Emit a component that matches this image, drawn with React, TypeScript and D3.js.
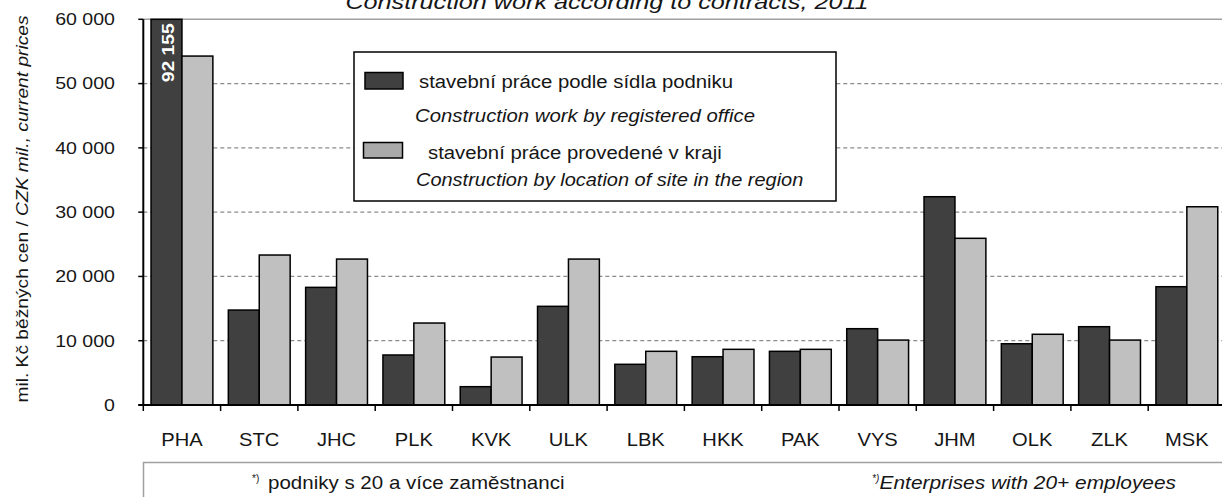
import { useEffect, useRef } from 'react';
import * as d3 from 'd3';

// regions (kraje)
const regions = ['PHA', 'STC', 'JHC', 'PLK', 'KVK', 'ULK', 'LBK', 'HKK', 'PAK', 'VYS', 'JHM', 'OLK', 'ZLK', 'MSK'];
// stavební práce podle sídla podniku
const byOffice = [92155, 14770, 18300, 7780, 2850, 15350, 6330, 7510, 8350, 11870, 32400, 9530, 12180, 18400];
// stavební práce provedené v kraji
const bySite = [54280, 23330, 22700, 12750, 7460, 22700, 8350, 8660, 8660, 10100, 25930, 11000, 10100, 30840];
const yTicks = [0, 10000, 20000, 30000, 40000, 50000, 60000];

const FONT = "'Liberation Sans', Arial, sans-serif";
const DARK = '#404040', LIGHT = '#c0c0c0';

type TOpt = { size: number; sx?: number; anchor?: string; italic?: boolean; bold?: boolean; rot?: number; fill?: string };

export default function App() {
  const svgRef = useRef<SVGSVGElement>(null);

  useEffect(() => {
    if (!svgRef.current) return;
    const svg = d3.select(svgRef.current);
    svg.selectAll('*').remove();

    const W = 1222, H = 497;
    const left = 143.3, bottom = 405, top = 19.3;
    const band = 77.3;

    const x = d3.scaleBand<string>().domain(regions).range([left, left + band * regions.length]);
    const y = d3.scaleLinear().domain([0, 60000]).range([bottom, top]);
    const fmt = (v: number) => d3.format(',')(v).replace(/,/g, ' ');

    // text helper: the source font runs a bit wider than Liberation Sans, so stretch along the baseline
    const txt = (px: number, py: number, s: string, o: TOpt) =>
      svg.append('text')
        .attr('transform', `translate(${px},${py}) rotate(${o.rot ?? 0}) scale(${o.sx ?? 1.13},1)`)
        .attr('text-anchor', o.anchor ?? 'start')
        .attr('font-family', FONT).attr('font-size', o.size)
        .attr('font-style', o.italic ? 'italic' : 'normal')
        .attr('font-weight', o.bold ? 'bold' : 'normal')
        .attr('fill', o.fill ?? '#161616').text(s);

    svg.append('rect').attr('width', W).attr('height', H).attr('fill', '#fff');

    // title (cut at the top edge)
    txt(607, 8.5, 'Construction work  according  to contracts, 2011', { size: 21, sx: 1.2, anchor: 'middle', italic: true });

    // grid
    yTicks.filter(v => v > 0 && v < 60000).forEach(v => {
      svg.append('line').attr('x1', left).attr('x2', W).attr('y1', y(v)).attr('y2', y(v))
        .attr('stroke', '#8c8c8c').attr('stroke-width', 1.3).attr('stroke-dasharray', '4,3');
    });
    svg.append('line').attr('x1', left).attr('x2', W).attr('y1', y(60000)).attr('y2', y(60000))
      .attr('stroke', '#a0a0a0').attr('stroke-width', 1.5);

    // bars
    const bw = x.bandwidth();
    const clampV = (v: number) => Math.min(v, 60000);
    regions.forEach((r, i) => {
      const x0 = x(r)! + bw * 0.1;
      svg.append('rect').attr('x', x0).attr('y', y(clampV(byOffice[i])))
        .attr('width', bw * 0.4).attr('height', bottom - y(clampV(byOffice[i])))
        .attr('fill', DARK).attr('stroke', '#000').attr('stroke-width', 1.5);
      svg.append('rect').attr('x', x0 + bw * 0.4).attr('y', y(clampV(bySite[i])))
        .attr('width', bw * 0.4).attr('height', bottom - y(clampV(bySite[i])))
        .attr('fill', LIGHT).attr('stroke', '#000').attr('stroke-width', 1.5);
    });

    // clipped value label
    const pha = x('PHA')! + bw * 0.1;
    txt(pha + bw * 0.2 + 7.5, top + 4, fmt(byOffice[0]), { size: 16.5, sx: 1.17, anchor: 'end', bold: true, rot: -90, fill: '#fff' });

    // axes
    svg.append('line').attr('x1', left).attr('x2', left).attr('y1', top).attr('y2', bottom)
      .attr('stroke', '#000').attr('stroke-width', 2);
    svg.append('line').attr('x1', left - 5).attr('x2', W).attr('y1', bottom).attr('y2', bottom)
      .attr('stroke', '#000').attr('stroke-width', 2);
    yTicks.forEach(v => {
      svg.append('line').attr('x1', left - 5).attr('x2', left).attr('y1', y(v)).attr('y2', y(v))
        .attr('stroke', '#000').attr('stroke-width', 1.5);
      txt(115, y(v) + 5.8, fmt(v), { size: 16.3, sx: 1.2, anchor: 'end' });
    });
    regions.forEach(r => {
      svg.append('line').attr('x1', x(r)!).attr('x2', x(r)!).attr('y1', bottom).attr('y2', bottom + 6)
        .attr('stroke', '#000').attr('stroke-width', 1.5);
      txt(x(r)! + bw / 2, 445.5, r, { size: 18, sx: 1.12, anchor: 'middle' });
    });

    // y title
    const yt = svg.append('text').attr('transform', 'translate(28,209) rotate(-90) scale(1.15,1)').attr('text-anchor', 'middle')
      .attr('font-family', FONT).attr('font-size', 16.7).attr('fill', '#161616');
    yt.append('tspan').text('mil. Kč běžných cen / ');
    yt.append('tspan').attr('font-style', 'italic').text('CZK mil., current prices');

    // legend
    svg.append('rect').attr('x', 354).attr('y', 52).attr('width', 482).attr('height', 149)
      .attr('fill', '#fff').attr('stroke', '#000').attr('stroke-width', 1.5);
    svg.append('rect').attr('x', 365).attr('y', 72.5).attr('width', 38).attr('height', 16.5)
      .attr('fill', DARK).attr('stroke', '#000').attr('stroke-width', 1.5);
    svg.append('rect').attr('x', 363.5).attr('y', 142.5).attr('width', 39).attr('height', 15.5)
      .attr('fill', '#aaaaaa').attr('stroke', '#000').attr('stroke-width', 1.5);
    txt(419, 88, 'stavební práce podle sídla podniku', { size: 18, sx: 1.13 });
    txt(415, 121.5, 'Construction work by registered office', { size: 18, sx: 1.13, italic: true });
    txt(428, 159, 'stavební práce  provedené v kraji', { size: 18, sx: 1.13 });
    txt(416, 185.5, 'Construction by location of site in the region', { size: 18, sx: 1.11, italic: true });

    // footnote box
    svg.append('rect').attr('x', 143.5).attr('y', 462.5).attr('width', 1200).attr('height', 100)
      .attr('fill', 'none').attr('stroke', '#a0a0a0').attr('stroke-width', 1.5);
    txt(252, 482, '*)', { size: 10, sx: 1 });
    txt(268, 489, 'podniky s 20 a více zaměstnanci', { size: 18, sx: 1.14 });
    txt(872, 482, '*)', { size: 10, sx: 1, italic: true });
    txt(1176, 489, 'Enterprises with  20+ employees', { size: 18, sx: 1.16, anchor: 'end', italic: true });
  }, []);

  return <svg ref={svgRef} width={1222} height={497} style={{ position: 'absolute', left: 0, top: 0 }} />;
}
